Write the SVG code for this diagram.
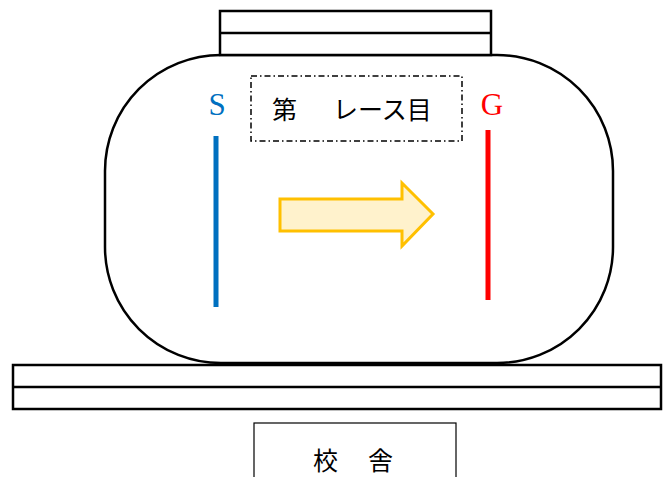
<svg xmlns="http://www.w3.org/2000/svg" width="667" height="477" viewBox="0 0 667 477">
<style>
.k{fill:#fff;stroke:#000;stroke-width:2.5}
.jp{font-family:"Noto Sans CJK JP","Noto Sans",sans-serif;font-size:25px;fill:#000}
.lt{font-family:"Liberation Serif",serif;font-size:31px}
</style>
<rect width="667" height="477" fill="#fff"/>
<g id="track"><rect class="k" x="105" y="55" width="508" height="308" rx="116" ry="116"/></g>
<g id="stand-top">
<rect class="k" x="220" y="11" width="271" height="44"/>
<line x1="220" y1="33" x2="491" y2="33" stroke="#000" stroke-width="2.5"/>
</g>
<g id="race-label">
<rect x="251" y="76" width="211" height="65" fill="none" stroke="#000" stroke-width="1.5" stroke-dasharray="6,3,1.5,3"/>
<text class="jp" y="119"><tspan x="272">第</tspan><tspan x="333">レース目</tspan></text>
</g>
<g id="start">
<text class="lt" x="217" y="115" text-anchor="middle" fill="#0070C0">S</text>
<line x1="216" y1="136" x2="216" y2="307" stroke="#0070C0" stroke-width="5"/>
</g>
<g id="goal">
<text class="lt" x="492" y="115" text-anchor="middle" fill="#FF0000">G</text>
<line x1="488" y1="130" x2="488" y2="300" stroke="#FF0000" stroke-width="5"/>
</g>
<g id="connectors">
<polygon points="280,199 402,199 402,183 433,214 402,246 402,231 280,231" fill="#FFF2CC" stroke="#FFC000" stroke-width="3" stroke-linejoin="miter"/>
</g>
<g id="stand-bottom">
<rect class="k" x="13" y="365" width="648" height="44"/>
<line x1="13" y1="387" x2="661" y2="387" stroke="#000" stroke-width="2.5"/>
</g>
<g id="school">
<rect x="254" y="423" width="202" height="70" fill="#fff" stroke="#000" stroke-width="1.2"/>
<text class="jp" y="470"><tspan x="313">校</tspan><tspan x="368">舎</tspan></text>
</g>
</svg>
